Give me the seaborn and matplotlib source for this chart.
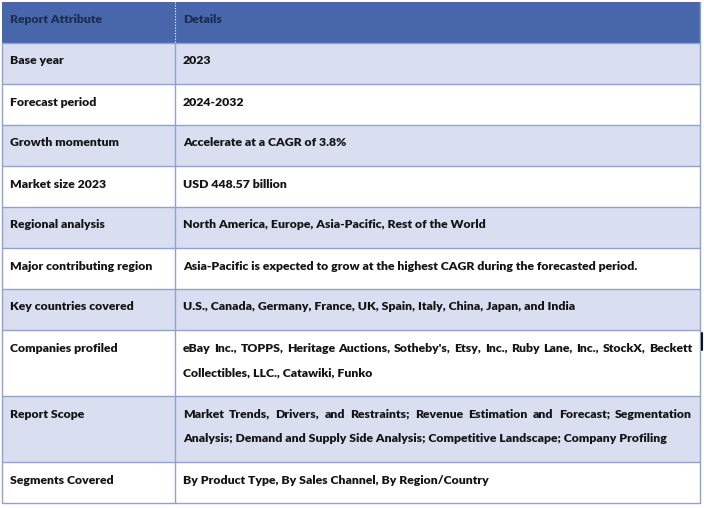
import matplotlib
matplotlib.use('Agg')
import matplotlib.pyplot as plt
import seaborn as sns

sns.set_style('white')
plt.rcParams['font.family'] = ['Lato', 'DejaVu Sans']

header = ['Report Attribute', 'Details']
attributes = ['Base year', 'Forecast period', 'Growth momentum', 'Market size 2023',
              'Regional analysis', 'Major contributing region', 'Key countries covered',
              'Companies profiled', 'Report Scope', 'Segments Covered']
details = [
    ['2023'],
    ['2024-2032'],
    ['Accelerate at a CAGR of 3.8%'],
    ['USD 448.57 billion'],
    ['North America, Europe, Asia-Pacific, Rest of the World'],
    ['Asia-Pacific is expected to grow at the highest CAGR during the forecasted period.'],
    ['U.S., Canada, Germany, France, UK, Spain, Italy, China, Japan, and India'],
    ["eBay Inc., TOPPS, Heritage Auctions, Sotheby's, Etsy, Inc., Ruby Lane, Inc., StockX, Beckett",
     'Collectibles, LLC., Catawiki, Funko'],
    ['Market Trends, Drivers, and Restraints; Revenue Estimation and Forecast; Segmentation',
     'Analysis; Demand and Supply Side Analysis; Competitive Landscape; Company Profiling'],
    ['By Product Type, By Sales Channel, By Region/Country'],
]

W, H = 704, 508
x0, xdiv, x1 = 2, 175, 700
top = 2
base_h, line_h = 41, 25
header_col = '#4767AA'
band_col = '#D9DFF0'
line_col = '#8FA3CC'
head_txt = '#1C2B52'
body_txt = '#141414'
fs = 8.8
weight = 'heavy'

fig = plt.figure(figsize=(W / 100, H / 100), dpi=100)
ax = fig.add_axes([0, 0, 1, 1])
ax.set_xlim(0, W)
ax.set_ylim(H, 0)
ax.axis('off')
renderer = fig.canvas.get_renderer()


def put_line(text, x, y, color, justify_to=None):
    if justify_to is None:
        ax.text(x, y, text, fontsize=fs, fontweight=weight, color=color,
                va='baseline', ha='left')
        return
    words = text.split(' ')
    arts = [ax.text(0, y, w, fontsize=fs, fontweight=weight, color=color,
                    va='baseline', ha='left') for w in words]
    widths = [a.get_window_extent(renderer).width for a in arts]
    gap = (justify_to - x - sum(widths)) / (len(words) - 1)
    cx = x
    for a, w in zip(arts, widths):
        a.set_x(cx)
        cx += w + gap


# header row
y = top
ax.fill_between([x0, x1], y, y + base_h, color=header_col, lw=0)
put_line(header[0], 10, y + 21, head_txt)
put_line(header[1], 183, y + 21, head_txt)
ax.plot([xdiv, xdiv], [y, y + base_h], color='white', lw=0.8, ls=(0, (1, 1.5)))
y += base_h

edges = [top, y]
for i, (attr, det) in enumerate(zip(attributes, details)):
    h = base_h + line_h * (len(det) - 1)
    col = band_col if i % 2 == 0 else 'white'
    ax.fill_between([x0, x1], y, y + h, color=col, lw=0)
    put_line(attr, 10, y + 21.5, body_txt)
    for k, ln in enumerate(det):
        just = 692 if (len(det) > 1 and k < len(det) - 1) else None
        put_line(ln, 183, y + 21.5 + k * line_h, body_txt, justify_to=just)
    y += h
    edges.append(y)

for e in edges[1:]:
    ax.plot([x0, x1], [e, e], color=line_col, lw=1)
ax.plot([x0, x0], [edges[1], edges[-1]], color=line_col, lw=1)
ax.plot([x1, x1], [edges[0], edges[-1]], color=line_col, lw=1)
ax.plot([xdiv, xdiv], [edges[1], edges[-1]], color=line_col, lw=1)
# stray cursor mark at the right edge, as in the source screenshot
ax.plot([702, 702], [333, 350], color='#111111', lw=1.5)

fig.savefig('out.png', dpi=100)
